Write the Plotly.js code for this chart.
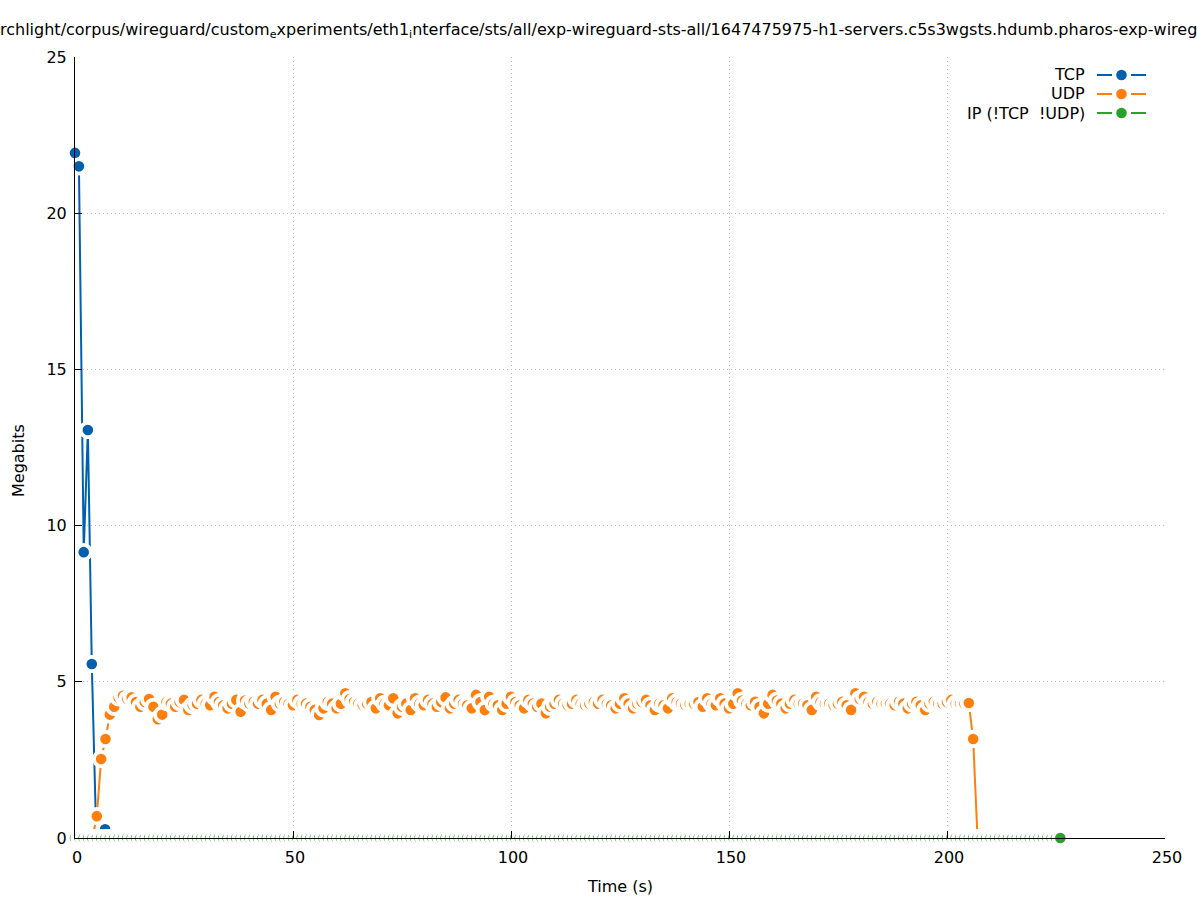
<!DOCTYPE html>
<html>
<head>
<meta charset="utf-8">
<script src="https://cdn.plot.ly/plotly-3.0.1.min.js"></script>
<style>html,body{margin:0;padding:0;background:#fff;}#chart{width:1197px;height:900px;}</style>
</head>
<body>
<div id="chart"></div>
<script>
// ---- data ----
const chartTitle = "rchlight/corpus/wireguard/custom<sub>e</sub>xperiments/eth1<sub>i</sub>nterface/sts/all/exp-wireguard-sts-all/1647475975-h1-servers.c5s3wgsts.hdumb.pharos-exp-wireguard-sts-all";
const xTitle = "Time (s)";
const yTitle = "Megabits";
const seriesNames = ["TCP", "UDP", "IP (!TCP &nbsp;!UDP)"];
const seriesColors = ["#0060ad", "#ff7f0e", "#2ca02c"];

const tcpTime = [0, 0.9, 2.0, 2.95, 3.85, 4.85, 5.9, 6.9, 7.9];
const tcpMbits = [21.93, 21.5, 9.15, 13.06, 5.57, 0.2, 0.25, 0.28, 0];

const udpTime = [4,5,6,7,8,9,10,11,12,13,14,15,16,17,18,19,20,21,22,23,24,25,26,27,28,29,30,31,32,33,34,35,36,37,38,39,40,41,42,43,44,45,46,47,48,49,50,51,52,53,54,55,56,57,58,59,60,61,62,63,64,65,66,67,68,69,70,71,72,73,74,75,76,77,78,79,80,81,82,83,84,85,86,87,88,89,90,91,92,93,94,95,96,97,98,99,100,101,102,103,104,105,106,107,108,109,110,111,112,113,114,115,116,117,118,119,120,121,122,123,124,125,126,127,128,129,130,131,132,133,134,135,136,137,138,139,140,141,142,143,144,145,146,147,148,149,150,151,152,153,154,155,156,157,158,159,160,161,162,163,164,165,166,167,168,169,170,171,172,173,174,175,176,177,178,179,180,181,182,183,184,185,186,187,188,189,190,191,192,193,194,195,196,197,198,199,200,201,202,203,204,205,206,207];
const udpMbits = [0,0.7,2.53,3.17,
3.95,4.2,4.5,4.55,4.45,4.5,4.35,4.2,4.35,4.45,4.2,3.8,3.95,4.35,4.3,4.2,4.35,4.42,4.1,4.25,4.3,4.42,4.3,4.25,4.52,4.35,4.25,4.15,4.3,4.42,4.04,4.4,4.3,4.36,4.3,4.42,4.3,4.1,4.52,4.3,4.36,4.3,4.25,4.42,4.3,4.3,4.2,4.1,3.94,4.15,4.36,4.3,4.15,4.3,4.63,4.45,4.36,4.3,4.25,4.3,4.35,4.15,4.47,4.3,4.25,4.47,3.99,4.2,4.3,4.1,4.47,4.3,4.25,4.42,4.3,4.2,4.35,4.5,4.15,4.3,4.42,4.3,4.25,4.15,4.58,4.35,4.1,4.52,4.3,4.25,4.1,4.3,4.52,4.35,4.25,4.15,4.42,4.3,4.2,4.3,3.99,4.2,4.3,4.42,4.3,4.25,4.3,4.42,4.3,4.25,4.3,4.35,4.3,4.42,4.3,4.25,4.15,4.3,4.47,4.3,4.15,4.3,4.35,4.42,4.25,4.1,4.3,4.25,4.15,4.47,4.35,4.3,4.25,4.3,4.3,4.35,4.2,4.47,4.3,4.25,4.47,4.3,4.15,4.3,4.63,4.4,4.3,4.25,4.36,4.2,3.99,4.3,4.58,4.4,4.3,4.15,4.3,4.42,4.3,4.3,4.25,4.1,4.52,4.35,4.3,4.3,4.25,4.3,4.36,4.25,4.1,4.63,4.45,4.52,4.35,4.3,4.36,4.3,4.3,4.3,4.25,4.36,4.3,4.15,4.3,4.36,4.25,4.1,4.3,4.36,4.3,4.3,4.35,4.42,4.3,4.3,4.3,
4.32,3.17,0];

const ipTime = [0,1,2,3,4,5,6,7,8,9,10,11,12,13,14,15,16,17,18,19,20,21,22,23,24,25,26,27,28,29,30,31,32,33,34,35,36,37,38,39,40,41,42,43,44,45,46,47,48,49,50,51,52,53,54,55,56,57,58,59,60,61,62,63,64,65,66,67,68,69,70,71,72,73,74,75,76,77,78,79,80,81,82,83,84,85,86,87,88,89,90,91,92,93,94,95,96,97,98,99,100,101,102,103,104,105,106,107,108,109,110,111,112,113,114,115,116,117,118,119,120,121,122,123,124,125,126,127,128,129,130,131,132,133,134,135,136,137,138,139,140,141,142,143,144,145,146,147,148,149,150,151,152,153,154,155,156,157,158,159,160,161,162,163,164,165,166,167,168,169,170,171,172,173,174,175,176,177,178,179,180,181,182,183,184,185,186,187,188,189,190,191,192,193,194,195,196,197,198,199,200,201,202,203,204,205,206,207,208,209,210,211,212,213,214,215,216,217,218,219,220,221,222,223,224,225,226];
const ipMbits = [0,0,0,0,0,0,0,0,0,0,0,0,0,0,0,0,0,0,0,0,0,0,0,0,0,0,0,0,0,0,0,0,0,0,0,0,0,0,0,0,0,0,0,0,0,0,0,0,0,0,0,0,0,0,0,0,0,0,0,0,0,0,0,0,0,0,0,0,0,0,0,0,0,0,0,0,0,0,0,0,0,0,0,0,0,0,0,0,0,0,0,0,0,0,0,0,0,0,0,0,0,0,0,0,0,0,0,0,0,0,0,0,0,0,0,0,0,0,0,0,0,0,0,0,0,0,0,0,0,0,0,0,0,0,0,0,0,0,0,0,0,0,0,0,0,0,0,0,0,0,0,0,0,0,0,0,0,0,0,0,0,0,0,0,0,0,0,0,0,0,0,0,0,0,0,0,0,0,0,0,0,0,0,0,0,0,0,0,0,0,0,0,0,0,0,0,0,0,0,0,0,0,0,0,0,0,0,0,0,0,0,0,0,0,0,0,0,0,0,0,0,0,0,0,0,0,0];

const xTicks = [0, 50, 100, 150, 200, 250];
const yTicks = [0, 5, 10, 15, 20, 25];

// ---- drawing ----
const FONT = "DejaVu Sans";
const W = 1197, H = 900;
const M = {l: 75, r: 32, t: 57, b: 62};
const PW = W - M.l - M.r, PH = H - M.t - M.b;
const px = v => (v - M.l) / PW;      // pixel -> paper x
const py = v => (H - M.b - v) / PH;  // pixel -> paper y

function mk(x, y, i) {
  return {
    x: x, y: y, name: seriesNames[i], type: 'scatter', mode: 'lines+markers',
    cliponaxis: false, showlegend: false, hoverinfo: 'skip',
    line: {color: seriesColors[i], width: 2},
    marker: {symbol: 'circle', size: 14.4, color: seriesColors[i], line: {color: '#ffffff', width: 3.8}}
  };
}
const traces = [mk(tcpTime, tcpMbits, 0), mk(udpTime, udpMbits, 1), mk(ipTime, ipMbits, 2)];

// legend (gnuplot style: text, then sample to the right)
const annotations = [];
const shapes = [];
const legY = [75, 94, 113];
seriesNames.forEach((n, i) => {
  annotations.push({xref: 'paper', yref: 'paper', x: px(1087), y: py(legY[i]), xanchor: 'right', yanchor: 'middle',
    text: n, showarrow: false, font: {family: FONT, size: 16, color: '#000'}});
  shapes.push({type: 'line', xref: 'paper', yref: 'paper', x0: px(1097), x1: px(1112), y0: py(legY[i]), y1: py(legY[i]), line: {color: seriesColors[i], width: 2}});
  shapes.push({type: 'line', xref: 'paper', yref: 'paper', x0: px(1131), x1: px(1146), y0: py(legY[i]), y1: py(legY[i]), line: {color: seriesColors[i], width: 2}});
  shapes.push({type: 'circle', xref: 'paper', yref: 'paper', x0: px(1121.5 - 5.3), x1: px(1121.5 + 5.3), y0: py(legY[i] + 5.3), y1: py(legY[i] - 5.3), fillcolor: seriesColors[i], line: {width: 0}});
});
// axis titles
annotations.push({xref: 'paper', yref: 'paper', x: 0.5, y: py(886), xanchor: 'center', yanchor: 'middle', text: xTitle, showarrow: false, font: {family: FONT, size: 16, color: '#000'}});
annotations.push({xref: 'paper', yref: 'paper', x: px(18), y: py(461), xanchor: 'center', yanchor: 'middle', textangle: -90, text: yTitle, showarrow: false, font: {family: FONT, size: 16, color: '#000'}});

const gridStyle = {showgrid: true, gridcolor: '#bdbdbd', griddash: '1px,3px', gridwidth: 1};
const layout = {
  width: W, height: H, margin: {l: M.l, r: M.r, t: M.t, b: M.b, pad: 0},
  paper_bgcolor: '#fff', plot_bgcolor: '#fff',
  font: {family: FONT, size: 16, color: '#000'},
  title: {text: chartTitle, xref: 'container', yref: 'container', x: 0, xanchor: 'left', y: 1 - 29 / H, yanchor: 'middle', font: {family: FONT, size: 16, color: '#000'}},
  xaxis: Object.assign({range: [0, 250], tickvals: xTicks, ticktext: xTicks.map(String), ticks: 'inside', ticklen: 7, tickcolor: '#000', tickwidth: 1,
    ticklabelstandoff: 5, ticklabelshift: 2,
    showline: true, linecolor: '#000', linewidth: 1, zeroline: false, tickfont: {family: FONT, size: 16}, layer: 'above traces', fixedrange: true}, gridStyle),
  yaxis: Object.assign({range: [0, 25], tickvals: yTicks, ticktext: yTicks.map(String), ticks: 'inside', ticklen: 7, tickcolor: '#000', tickwidth: 1,
    ticklabelstandoff: 4,
    showline: true, linecolor: '#000', linewidth: 1, zeroline: false, tickfont: {family: FONT, size: 16}, layer: 'above traces', fixedrange: true}, gridStyle),
  xaxis2: {overlaying: 'x', side: 'top', anchor: 'y', range: [0, 250], tickvals: xTicks, ticks: 'inside', ticklen: 7, tickcolor: '#000',
    showticklabels: false, showgrid: false, zeroline: false, showline: false, fixedrange: true},
  yaxis2: {overlaying: 'y', side: 'right', anchor: 'x', range: [0, 25], tickvals: yTicks, ticks: 'inside', ticklen: 7, tickcolor: '#000',
    showticklabels: false, showgrid: false, zeroline: false, showline: false, fixedrange: true},
  showlegend: false,
  annotations: annotations,
  shapes: shapes
};
Plotly.newPlot('chart', traces, layout, {staticPlot: true, displayModeBar: false});
</script>
</body>
</html>
